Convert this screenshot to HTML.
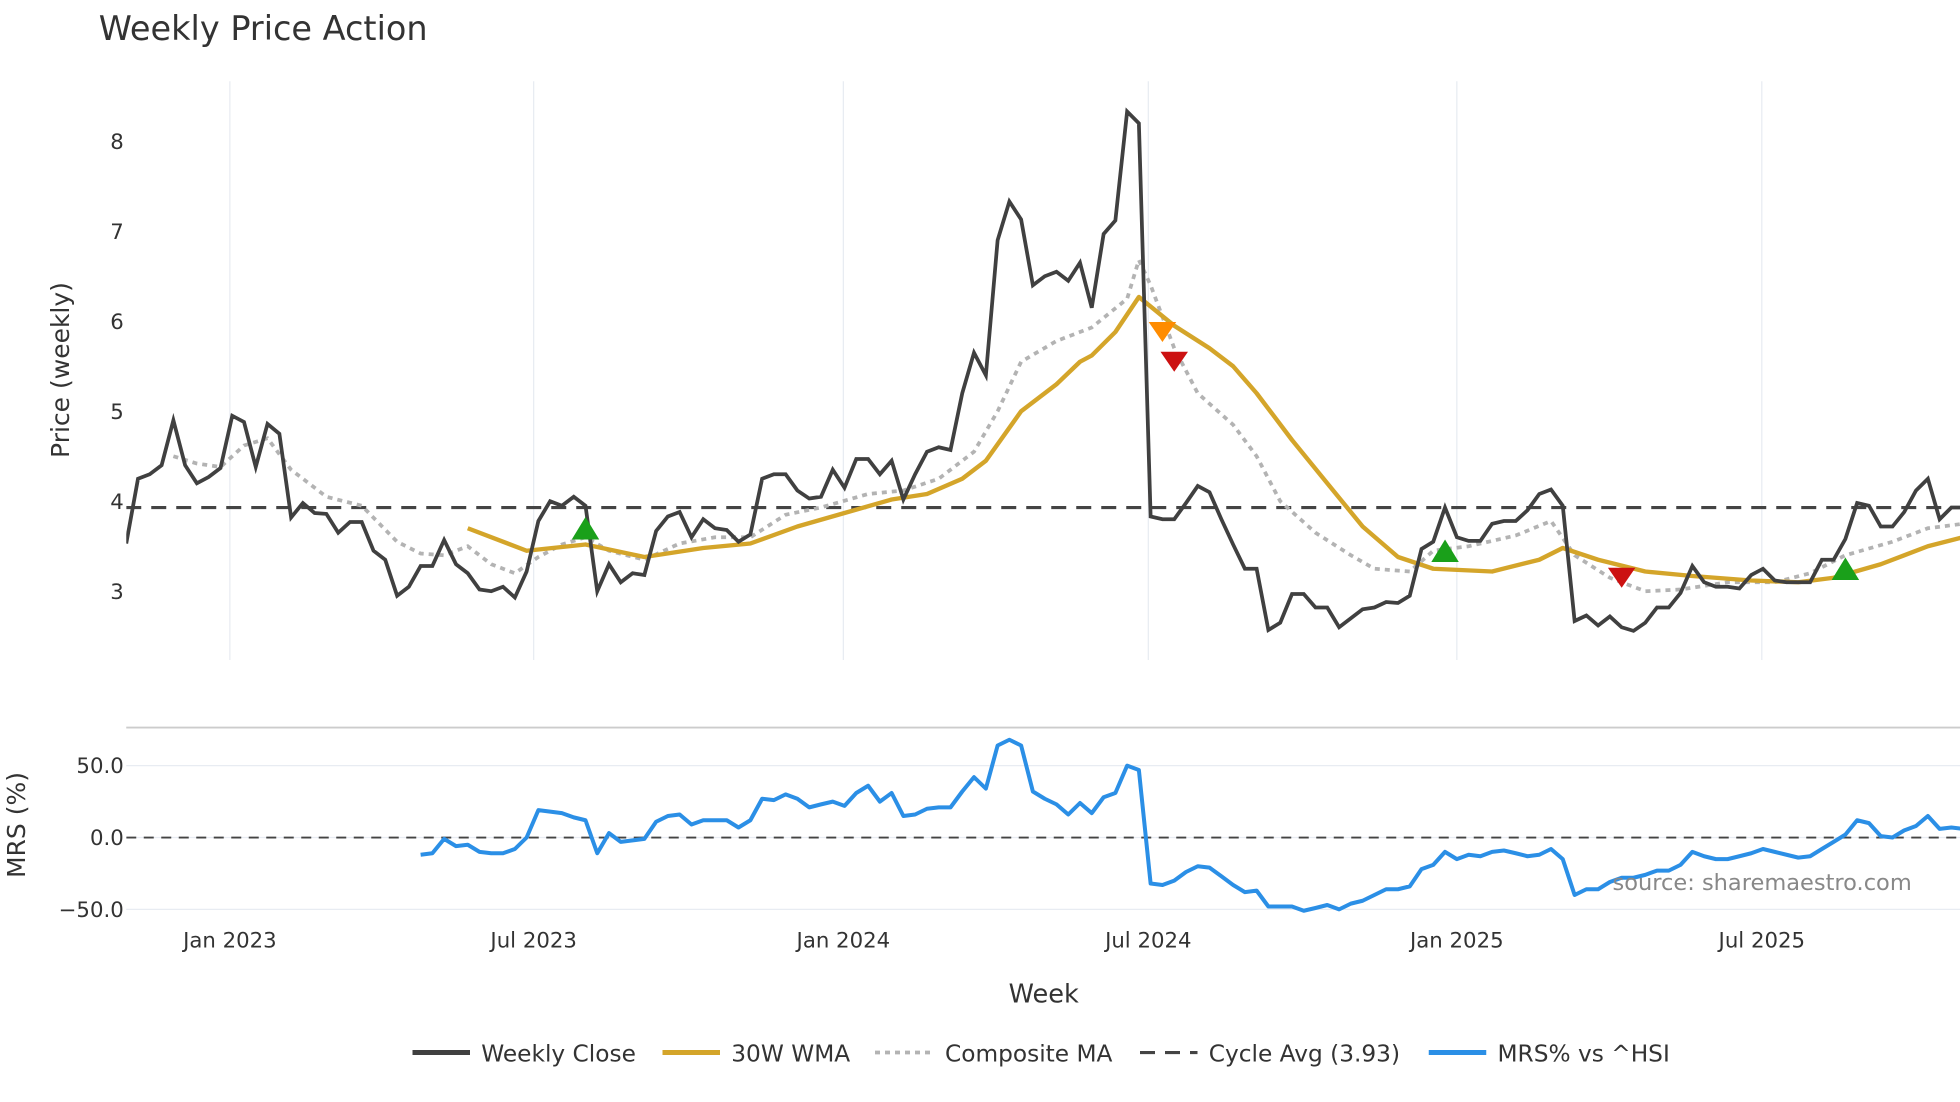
<!DOCTYPE html>
<html><head><meta charset="utf-8"><style>
html,body{margin:0;padding:0;background:#fff;}
svg{display:block;font-family:"DejaVu Sans","Liberation Sans",sans-serif;}
</style></head><body>
<svg id="chart" width="1960" height="1102" viewBox="0 0 1568 881.6" xmlns="http://www.w3.org/2000/svg">
<defs><clipPath id="clipP"><rect x="101" y="60" width="1467" height="475"/></clipPath>
<clipPath id="clipM"><rect x="101" y="585" width="1467" height="155"/></clipPath></defs>
<text x="79" y="32" font-size="26.8" fill="#333">Weekly Price Action</text>
<g id="grid"></g>
<g id="price" clip-path="url(#clipP)"></g>
<g id="mrs" clip-path="url(#clipM)"></g>
<g id="axes"></g>
<text transform="translate(55,296) rotate(-90)" text-anchor="middle" font-size="20" fill="#333">Price (weekly)</text>
<text transform="translate(20,660) rotate(-90)" text-anchor="middle" font-size="20" fill="#333">MRS (%)</text>
<text x="835" y="802" text-anchor="middle" font-size="20.5" fill="#333">Week</text>
<text x="1290" y="712" font-size="18" fill="#888">source: sharemaestro.com</text>
<g font-size="18.6" fill="#333">
<g><line x1="330" y1="842" x2="376" y2="842" stroke="#404040" stroke-width="4"/><text x="385" y="849">Weekly Close</text></g>
<g><line x1="530" y1="842" x2="576" y2="842" stroke="#d4a52a" stroke-width="4"/><text x="585" y="849">30W WMA</text></g>
<g><line x1="700" y1="842" x2="746" y2="842" stroke="#b3b3b3" stroke-width="3" stroke-dasharray="4,4"/><text x="756" y="849">Composite MA</text></g>
<g><line x1="912" y1="842" x2="958" y2="842" stroke="#444" stroke-width="2.5" stroke-dasharray="12,8"/><text x="967" y="849">Cycle Avg (3.93)</text></g>
<g><line x1="1143" y1="842" x2="1189" y2="842" stroke="#2b8fe6" stroke-width="4"/><text x="1198" y="849">MRS% vs ^HSI</text></g>
</g>
</svg>
<script>
const closes=[3.53,4.25,4.3,4.4,4.9,4.4,4.2,4.27,4.37,4.95,4.88,4.38,4.86,4.75,3.82,3.98,3.87,3.86,3.65,3.77,3.77,3.45,3.35,2.95,3.05,3.28,3.28,3.57,3.3,3.2,3.02,3.0,3.05,2.93,3.22,3.78,4.0,3.95,4.05,3.95,3.0,3.3,3.1,3.2,3.18,3.67,3.83,3.88,3.6,3.8,3.7,3.68,3.55,3.63,4.25,4.3,4.3,4.12,4.03,4.05,4.35,4.15,4.47,4.47,4.3,4.45,4.02,4.3,4.55,4.6,4.57,5.2,5.65,5.4,6.9,7.33,7.13,6.4,6.5,6.55,6.45,6.65,6.15,6.97,7.12,8.33,8.2,3.83,3.8,3.8,3.98,4.17,4.1,3.8,3.52,3.25,3.25,2.57,2.65,2.97,2.97,2.82,2.82,2.6,2.7,2.8,2.82,2.88,2.87,2.95,3.47,3.55,3.93,3.6,3.56,3.56,3.75,3.78,3.78,3.9,4.08,4.13,3.95,2.67,2.73,2.62,2.72,2.6,2.56,2.65,2.82,2.82,2.98,3.28,3.1,3.05,3.05,3.03,3.18,3.25,3.12,3.1,3.1,3.1,3.35,3.35,3.58,3.98,3.95,3.72,3.72,3.88,4.12,4.25,3.8,3.93,3.93];
const wmaWeeks=[29,34,39,44,49,53,57,61,65,68,71,73,76,79,81,82,84,86,89,92,94,96,99,102,105,108,111,116,120,122,125,129,133,138,142,145,149,153,156];
const wmaValues=[3.7,3.45,3.52,3.38,3.48,3.53,3.72,3.87,4.02,4.08,4.25,4.45,5.0,5.3,5.55,5.62,5.88,6.27,5.95,5.7,5.5,5.2,4.68,4.2,3.72,3.38,3.25,3.22,3.35,3.48,3.35,3.22,3.17,3.12,3.1,3.15,3.3,3.5,3.6];
const compWeeks=[4,6,8,10,12,14,17,20,23,25,27,29,31,33,35,37,39,41,44,47,50,53,56,59,63,66,69,72,74,76,79,82,85,86,87,89,91,94,96,98,101,104,106,109,111,114,118,121,123,126,129,132,136,140,143,146,150,153,156];
const compValues=[4.5,4.42,4.38,4.62,4.7,4.35,4.05,3.95,3.55,3.42,3.4,3.5,3.3,3.2,3.38,3.52,3.6,3.45,3.35,3.53,3.6,3.6,3.85,3.93,4.08,4.12,4.25,4.55,5.0,5.55,5.78,5.93,6.25,6.68,6.4,5.7,5.2,4.85,4.5,4.0,3.65,3.4,3.25,3.22,3.45,3.5,3.62,3.78,3.4,3.15,3.0,3.02,3.1,3.1,3.2,3.4,3.55,3.7,3.75];
const cycleAvg=3.93;
const signalWeeks=[39,88,89,112,127,146];
const signalValues=[3.7,5.88,5.55,3.45,3.15,3.25];
const signalTypes=["buy","warn","sell","buy","sell","buy"];
const mrsStart=25;
const mrsValues=[-12,-11,-1,-6,-5,-10,-11,-11,-8,0,19,18,17,14,12,-11,3,-3,-2,-1,11,15,16,9,12,12,12,7,12,27,26,30,27,21,23,25,22,31,36,25,31,15,16,20,21,21,32,42,34,64,68,64,32,27,23,16,24,17,28,31,50,47,-32,-33,-30,-24,-20,-21,-27,-33,-38,-37,-48,-48,-48,-51,-49,-47,-50,-46,-44,-40,-36,-36,-34,-22,-19,-10,-15,-12,-13,-10,-9,-11,-13,-12,-8,-15,-40,-36,-36,-31,-28,-28,-26,-23,-23,-19,-10,-13,-15,-15,-13,-11,-8,-10,-12,-14,-13,-8,-3,2,12,10,1,0,5,8,15,6,7,6];
const xTickLabels=["Jan 2023","Jul 2023","Jan 2024","Jul 2024","Jan 2025","Jul 2025"];
const xTickWeeks=[8.8,34.6,60.9,86.8,113,138.9];
const priceTicks=[3,4,5,6,7,8];
const mrsTicks=[-50,0,50];

const NS="http://www.w3.org/2000/svg";
const X=w=>101+w*9.42;
const YP=v=>473-(v-3)*72;
const YM=v=>670-v*1.15;
function mk(tag,attrs,parent){const e=document.createElementNS(NS,tag);for(const k in attrs)e.setAttribute(k,attrs[k]);parent.appendChild(e);return e;}
const grid=document.getElementById('grid'),price=document.getElementById('price'),mrs=document.getElementById('mrs'),axes=document.getElementById('axes');

xTickLabels.forEach((lab,i)=>{
  const x=X(xTickWeeks[i]);
  const g=mk('line',{x1:x,x2:x,y1:65,y2:528,stroke:'#e8ecf2','stroke-width':1},grid);
  
  
  const t=mk('text',{x:x,y:758,'text-anchor':'middle','font-size':17,fill:'#333'},axes);
  t.textContent=lab;
  
  
});
priceTicks.forEach(v=>{
  const t=mk('text',{x:99,y:YP(v)+6,'text-anchor':'end','font-size':17,fill:'#333'},axes);
  t.textContent=String(v);
  
  
});
mrsTicks.forEach(v=>{
  const l=mk('line',{x1:101,x2:1568,y1:YM(v),y2:YM(v),stroke:'#e8ecf2','stroke-width':1},grid);
  
  
  const t=mk('text',{x:99,y:YM(v)+6,'text-anchor':'end','font-size':17,fill:'#333'},axes);
  t.textContent=(v<0?'\u2212':'')+Math.abs(v).toFixed(1);
  
  
});
const sep=mk('line',{x1:101,x2:1568,y1:582,y2:582,stroke:'#ccc','stroke-width':1.5},grid);



function pts(ws,vs,yf){return ws.map((w,i)=>X(w).toFixed(1)+','+yf(vs[i]).toFixed(1)).join(' ');}
const cyc=mk('line',{x1:101,x2:1568,y1:YP(cycleAvg),y2:YP(cycleAvg),stroke:'#444','stroke-width':2.5,'stroke-dasharray':'12,8'},price);


const comp=mk('polyline',{points:pts(compWeeks,compValues,YP),fill:'none',stroke:'#b3b3b3','stroke-width':3,'stroke-dasharray':'4,4'},price);


const wma=mk('polyline',{points:pts(wmaWeeks,wmaValues,YP),fill:'none',stroke:'#d4a52a','stroke-width':3.5,'stroke-linejoin':'round'},price);


const cl=mk('polyline',{points:pts(closes.map((_,i)=>i),closes,YP),fill:'none',stroke:'#404040','stroke-width':3,'stroke-linejoin':'miter'},price);


signalWeeks.forEach((w,i)=>{
  const x=X(w),y=YP(signalValues[i]),t=signalTypes[i];
  const col=t==='buy'?'#1aa01a':(t==='warn'?'#ff8c00':'#cc1111');
  const p=t==='buy'?`${x-11},${y+9} ${x+11},${y+9} ${x},${y-9}`:`${x-11},${y-8} ${x+11},${y-8} ${x},${y+8}`;
  const m=mk('polygon',{points:p,fill:col},price);
  
  
});
const zero=mk('line',{x1:101,x2:1568,y1:YM(0),y2:YM(0),stroke:'#444','stroke-width':1.5,'stroke-dasharray':'8,6'},mrs);


const ml=mk('polyline',{points:pts(mrsValues.map((_,i)=>mrsStart+i),mrsValues,YM),fill:'none',stroke:'#2b8fe6','stroke-width':3.2,'stroke-linejoin':'round'},mrs);


</script>
</body></html>
